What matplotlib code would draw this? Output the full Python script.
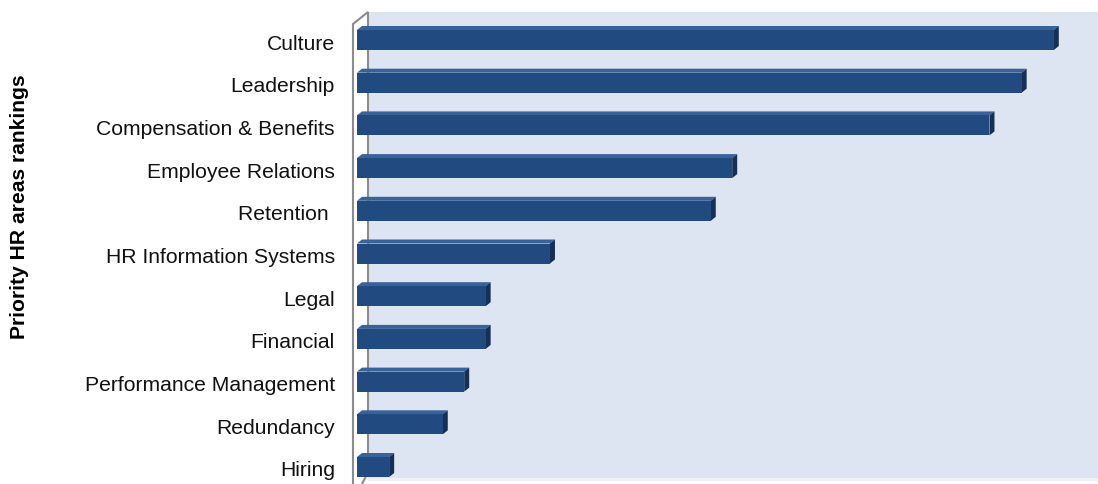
import numpy as np
import matplotlib.pyplot as plt
from matplotlib.patches import Polygon, Rectangle

# data (arbitrary units)
areas = ['Culture', 'Leadership', 'Compensation & Benefits', 'Employee Relations',
         'Retention ', 'HR Information Systems', 'Legal', 'Financial',
         'Performance Management', 'Redundancy', 'Hiring']
scores = [65, 62, 59, 35, 33, 18, 12, 12, 10, 8, 3]

W, H = 1098, 485
fig = plt.figure(figsize=(W / 100, H / 100), dpi=100)
plt.rcParams['font.family'] = ['Liberation Sans', 'DejaVu Sans']

def fx(px):
    return px / W

def fy(py):
    return 1 - py / H

# axes: x=0 at px 357, right edge px 1098; y rows every ~42.7 px
x0_px, x1_px = 357, 1098
y0_px, y1_px = 13, 485
ax = fig.add_axes([fx(x0_px), fy(y1_px), fx(x1_px) - fx(x0_px), fy(y0_px) - fy(y1_px)])
ax.set_zorder(5)
ax.patch.set_visible(False)
ppu = 10.72
row = 42.7
c0 = 41
ax.set_xlim(0, (x1_px - x0_px) / ppu)
ax.set_ylim((y1_px - c0) / row, (y0_px - c0) / row)
ax.axis('off')

# back wall and side wall, drawn in figure coords
fig.patches.append(Rectangle((fx(368), fy(479)), fx(1098) - fx(368), fy(13) - fy(479),
                             transform=fig.transFigure, facecolor='#dce5f1',
                             edgecolor='none', zorder=0))
fig.patches.append(Rectangle((fx(368), fy(482)), fx(1098) - fx(368), fy(479) - fy(482),
                             transform=fig.transFigure, facecolor='#eef2f8',
                             edgecolor='none', zorder=0))
side = [(fx(353), fy(485)), (fx(353), fy(25)), (fx(368), fy(13)), (fx(368), fy(473)), (fx(362), fy(485))]
fig.patches.append(Polygon(side, closed=False, transform=fig.transFigure, facecolor='white',
                           edgecolor='#8c8c8c', linewidth=1.5, zorder=1))

# 3D-ish bars
h = 20 / row
dx = 5 / ppu
dy = 4 / row
front_c = '#214b80'
top_c = '#3a629a'
side_c = '#152f55'
for i, v in enumerate(scores):
    top = i - h / 2
    bot = i + h / 2
    ax.add_patch(Polygon([(0, top), (dx, top - dy), (v + dx, top - dy), (v, top)],
                         facecolor=top_c, edgecolor='none', zorder=3))
    ax.add_patch(Polygon([(v, top), (v + dx, top - dy), (v + dx, bot - dy), (v, bot)],
                         facecolor=side_c, edgecolor='none', zorder=3))
    ax.add_patch(Rectangle((0, top), v, h, facecolor=front_c, edgecolor='none', zorder=4))
    ax.text(-22 / ppu, i + 3 / row, areas[i], ha='right', va='center', fontsize=15.2,
            color='#111111', clip_on=False)

fig.text(fx(20), fy(207), 'Priority HR areas rankings', rotation=90, ha='center',
         va='center', fontsize=15.2, fontweight='bold')

fig.savefig('out.png', dpi=100)
